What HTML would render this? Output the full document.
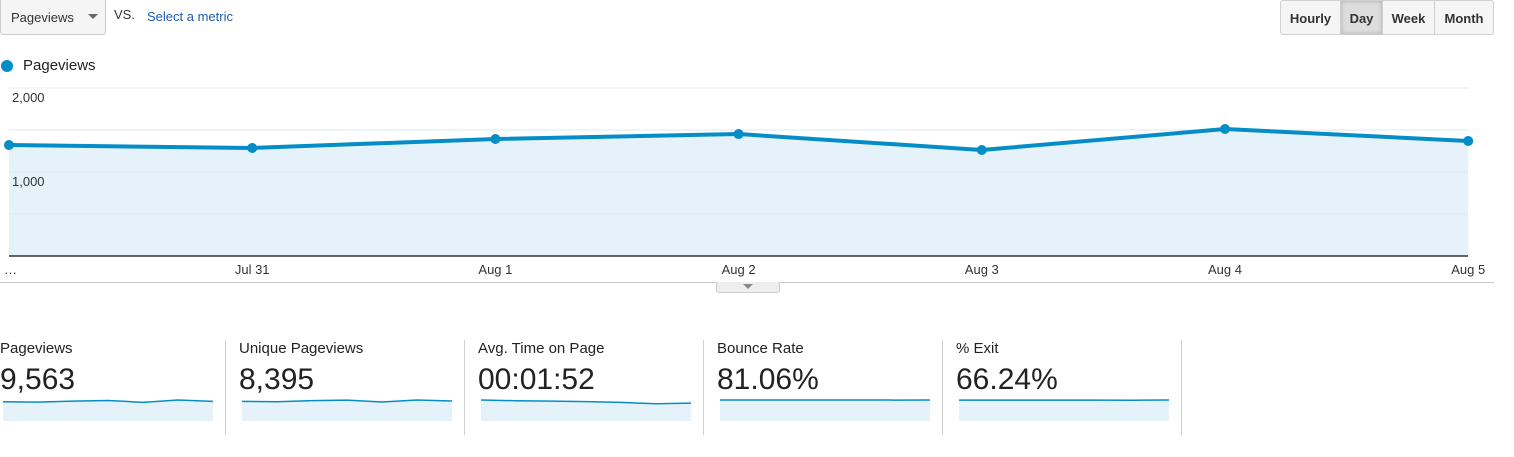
<!DOCTYPE html>
<html><head><meta charset="utf-8"><style>
body{margin:0;width:1514px;height:457px;background:#fff;font-family:"Liberation Sans",Arial,sans-serif;position:relative;overflow:hidden;color:#222}
.abs{position:absolute}
.btn{position:absolute;top:0;height:35px;line-height:35px;font-size:13px;font-weight:bold;color:#333;text-align:center;background:#f5f5f5;border:1px solid #d0d0d0;box-sizing:border-box}
.card{position:absolute;top:340px;width:225px}
.card .t{position:absolute;left:0;top:0;font-size:15px;color:#222}
.card .v{position:absolute;left:0;top:23px;font-size:30px;color:#222}
.sep{position:absolute;top:340px;width:1px;height:95px;background:#d0d0d0}
</style></head><body>
<div class="abs" style="left:0;top:-2px;width:106px;height:37px;border:1px solid #ccc;border-radius:3px;background:#f5f5f5;box-sizing:border-box;font-size:13px;line-height:37px;padding-left:10px;color:#333">Pageviews<span style="position:absolute;left:87px;top:15px;border-left:5px solid transparent;border-right:5px solid transparent;border-top:5px solid #666"></span></div>
<div class="abs" style="left:114px;top:7px;font-size:13px;color:#333">VS.</div>
<div class="abs" style="left:147px;top:9px;font-size:13px;color:#1a5ea8">Select a metric</div>
<div class="btn" style="left:1280px;width:61px;border-radius:3px 0 0 3px">Hourly</div>
<div class="btn" style="left:1340px;width:43px;background:#ddd;box-shadow:inset 0 0 4px #aaa">Day</div>
<div class="btn" style="left:1382px;width:53px">Week</div>
<div class="btn" style="left:1434px;width:60px;border-radius:0 3px 3px 0">Month</div>
<div class="abs" style="left:1px;top:60px;width:12px;height:12px;border-radius:50%;background:#058dc7"></div>
<div class="abs" style="left:23px;top:57px;font-size:15px;color:#222">Pageviews</div>
<svg class="abs" style="left:0;top:0" width="1514" height="300" id="chart"></svg>
<div class="abs" style="left:0;top:282px;width:1494px;height:1px;background:#ccc"></div>
<div class="abs" style="left:716px;top:282px;width:62px;height:10px;background:#eee;border:1px solid #ccc;border-top:none;border-radius:0 0 3px 3px"><span style="position:absolute;left:26px;top:2px;border-left:5px solid transparent;border-right:5px solid transparent;border-top:5px solid #888"></span></div>
<div id="cards"></div>
<script>
const dates=["…","Jul 31","Aug 1","Aug 2","Aug 3","Aug 4","Aug 5"];
const pageviews=[1321,1286,1393,1452,1262,1512,1369];
const yTicks=[1000,2000];
const NS="http://www.w3.org/2000/svg";
const svg=document.getElementById('chart');
const x=i=>9+i*243.2, y=v=>256-v*0.084;
function mk(t,a){const e=document.createElementNS(NS,t);for(const k in a)e.setAttribute(k,a[k]);svg.appendChild(e);return e;}
[500,1000,1500,2000].forEach(v=>{const g=mk('line',{x1:9,x2:1468,y1:y(v),y2:y(v),stroke:'#eeeeee'});

});
let pts=pageviews.map((v,i)=>x(i)+','+y(v)).join(' ');
const area=mk('polygon',{points:`${x(0)},256 ${pts} ${x(6)},256`,fill:'#e5f2f9'});


[500,1000,1500].forEach(v=>{const g=mk('line',{x1:9,x2:1468,y1:y(v),y2:y(v),stroke:'#dde9ef'});

});
const base=mk('line',{x1:9,x2:1468,y1:256,y2:256,stroke:'#333','stroke-width':1.5});


yTicks.forEach(v=>{const t=mk('text',{x:12,y:y(v)+14,'font-size':13,fill:'#333','font-family':'Liberation Sans'});t.textContent=v.toLocaleString('en-US');

});
const ln=mk('polyline',{points:pts,fill:'none',stroke:'#058dc7','stroke-width':4,'stroke-linejoin':'round'});


pageviews.forEach((v,i)=>{const c=mk('circle',{cx:x(i),cy:y(v),r:5,fill:'#058dc7'});

});
dates.forEach((d,i)=>{const t=mk('text',{x:i==0?4:x(i),y:274,'font-size':13,fill:'#333','text-anchor':i==0?'start':'middle','font-family':'Liberation Sans'});t.textContent=d;

});

const cardTitles=["Pageviews","Unique Pageviews","Avg. Time on Page","Bounce Rate","% Exit"];
const cardValues=["9,563","8,395","00:01:52","81.06%","66.24%"];
const sparkPV=[1321,1286,1393,1452,1262,1512,1369];
const sparkUPV=[1160,1130,1230,1280,1110,1290,1200];
const sparkTime=[118,112,108,104,98,86,92];
const sparkBounce=[81,81,81,80.8,81,80.6,81];
const sparkExit=[66,66,65.8,66,66,65.4,66.5];
const sparks=[sparkPV,sparkUPV,sparkTime,sparkBounce,sparkExit];
const cards=document.getElementById('cards');
cardTitles.forEach((t,k)=>{
 const left=k*239;
 const c=document.createElement('div');c.className='card';c.style.left=left+'px';
 
 
 c.innerHTML=`<div class="t">${t}</div><div class="v">${cardValues[k]}</div>`;
 const s=document.createElementNS(NS,'svg');s.setAttribute('width',215);s.setAttribute('height',26);s.style.position='absolute';s.style.left='0';s.style.top='57px';
 
 
 const sx=i=>3+i*35;
 const data=sparks[k];
 const mx=Math.max(...data);
 const sy=v=>3+(1-v/mx)*14;
 const p=data.map((v,i)=>sx(i)+','+sy(v)).join(' ');
 const a=document.createElementNS(NS,'polygon');a.setAttribute('points',`3,24 ${p} 213,24`);a.setAttribute('fill','#e5f2f9');s.appendChild(a);
 const l=document.createElementNS(NS,'polyline');l.setAttribute('points',p);l.setAttribute('fill','none');l.setAttribute('stroke','#058dc7');l.setAttribute('stroke-width','1.5');s.appendChild(l);
 c.appendChild(s);cards.appendChild(c);
 const sp=document.createElement('div');sp.className='sep';sp.style.left=(left+225)+'px';
 
 
 cards.appendChild(sp);
});
</script>
</body></html>
